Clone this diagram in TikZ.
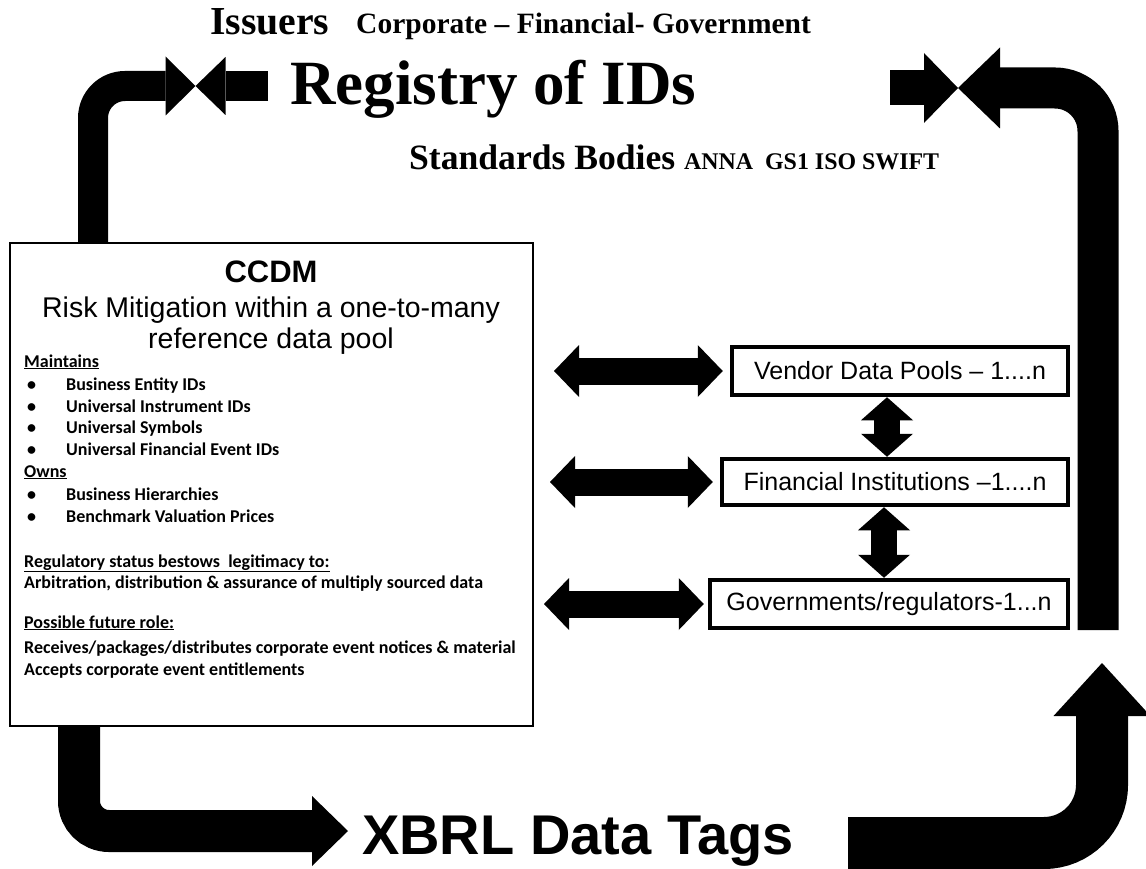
\documentclass[tikz,border=0pt]{standalone}
\usepackage{fontspec}
\setmainfont{Liberation Serif}
\setsansfont{Liberation Sans}
\newfontfamily\calfont{Carlito}
\usetikzlibrary{arrows.meta,positioning,calc}

\begin{document}
\begin{tikzpicture}[x=1pt, y=-1pt, line cap=butt,
  poolbox/.style={draw, line width=4.5pt, fill=white, inner sep=0pt, font=\sffamily\fontsize{25}{30}\selectfont},
  ccdmtxt/.style={anchor=base west, inner sep=0pt, font=\calfont\bfseries\fontsize{18}{22}\selectfont},
  hdbl/.style={line width=27pt, {Triangle[length=25pt,width=52pt,line width=0pt]}-{Triangle[length=25pt,width=52pt,line width=0pt]}},
  vdbl/.style={line width=26pt, {Triangle[length=23pt,width=52pt,line width=0pt]}-{Triangle[length=23pt,width=52pt,line width=0pt]}}]
\useasboundingbox (0,0) rectangle (1146,869);

% Headings
\node[font=\bfseries\fontsize{39.7}{44}\selectfont, anchor=base west, inner sep=0pt] (issuers) at (210,35) {Issuers};
\node[font=\bfseries\fontsize{29.5}{34}\selectfont, anchor=base west, inner sep=0pt] (sectors) at (356,34) {Corporate \textendash{} Financial- Government};
\node[font=\bfseries\fontsize{63}{70}\selectfont, anchor=base west, inner sep=0pt] (reg) at (290,105) {Registry of IDs};
\node[font=\bfseries\fontsize{35.6}{40}\selectfont, anchor=base west, inner sep=0pt] (std) at (409,170) {Standards Bodies {\fontsize{23.9}{28}\selectfont ANNA\ \ GS1 ISO SWIFT}};

% CCDM box
\node[draw, line width=2pt, fill=white, minimum width=523pt, minimum height=483pt, inner sep=0pt] (ccdm) at (271.5,484.5) {};
\node[font=\sffamily\bfseries\fontsize{31}{36}\selectfont, anchor=base, inner sep=0pt] (title) at (271,282) {CCDM};
\node[font=\sffamily\fontsize{28.5}{31}\selectfont, anchor=base, inner sep=0pt] (mitig) at (271,317) {Risk Mitigation within a one-to-many};
\node[font=\sffamily\fontsize{28.5}{31}\selectfont, anchor=base, inner sep=0pt] (pool) at (271,348) {reference data pool};

\node[ccdmtxt] (mnt) at (24,367) {\underline{Maintains}};
\node[ccdmtxt] (m1) at (27,390) {\makebox[39pt][l]{•}Business Entity IDs};
\node[ccdmtxt] (m2) at (27,412) {\makebox[39pt][l]{•}Universal Instrument IDs};
\node[ccdmtxt] (m3) at (27,433) {\makebox[39pt][l]{•}Universal Symbols};
\node[ccdmtxt] (m4) at (27,455) {\makebox[39pt][l]{•}Universal Financial Event IDs};
\node[ccdmtxt] (own) at (24,477) {\underline{Owns}};
\node[ccdmtxt] (o1) at (27,500) {\makebox[39pt][l]{•}Business Hierarchies};
\node[ccdmtxt] (o2) at (27,522) {\makebox[39pt][l]{•}Benchmark Valuation Prices};
\node[ccdmtxt] (regst) at (24,567) {\underline{Regulatory status bestows\ \ legitimacy to:}};
\node[ccdmtxt] (arb) at (24,588) {Arbitration, distribution \& assurance of multiply sourced data};
\node[ccdmtxt] (fut) at (24,628) {\underline{Possible future role:}};
\node[ccdmtxt] (rcv) at (24,653) {Receives/packages/distributes corporate event notices \& material};
\node[ccdmtxt] (acc) at (24,675) {Accepts corporate event entitlements};

% Pools
\node[poolbox, minimum width=336pt, minimum height=48pt] (vendor) at (900,371) {Vendor Data Pools \textendash{} 1....n};
\node[poolbox, minimum width=346pt, minimum height=46pt] (fin) at (895,482) {Financial Institutions \textendash1....n};
\node[poolbox, minimum width=358pt, minimum height=48pt] (gov) at (889,604) {Governments/regulators-1...n};

\node[font=\sffamily\bfseries\fontsize{56}{60}\selectfont, anchor=base west, inner sep=0pt] (xbrl) at (362,854) {XBRL Data Tags};

% Meeting points and free ends
\coordinate (lmeet) at (195.5,86);
\coordinate (rmeet) at (958,88);
\coordinate (rstub) at (890,88);
\coordinate (rtail) at (1098,630);
\coordinate (xtip) at (348,831);
\coordinate (jtail) at (848,843);
\coordinate (jtip) at (1102,663);

% Big bent arrows
\draw[line width=30pt, rounded corners=32pt, -{Triangle[length=30pt,width=59pt,line width=0pt]}] ([xshift=84pt]ccdm.north west) |- (lmeet);
\draw[line width=30pt, -{Triangle[length=30pt,width=58pt,line width=0pt]}] ([xshift=-22pt]reg.west |- lmeet) -- (lmeet);
\draw[line width=41pt, rounded corners=43pt, -{Triangle[length=42pt,width=81pt,line width=0pt]}] (rtail) |- (rmeet);
\draw[line width=35pt, -{Triangle[length=34pt,width=70pt,line width=0pt]}] (rstub) -- (rmeet);
\draw[line width=42pt, rounded corners=30pt, -{Triangle[length=36pt,width=70pt,line width=0pt]}] ([xshift=70pt]ccdm.south west) |- (xtip);
\draw[line width=52pt, rounded corners=58pt, -{Triangle[length=53pt,width=97pt,line width=0pt]}] (jtail) -| (jtip);

% Two-way links
\draw[hdbl] ([xshift=20pt]ccdm.east |- vendor) -- ([xshift=-7pt]vendor.west);
\draw[hdbl] ([xshift=16pt]ccdm.east |- fin) -- ([xshift=-7pt]fin.west);
\draw[hdbl] ([xshift=10pt]ccdm.east |- gov) -- ([xshift=-4pt]gov.west);
\draw[vdbl] ([xshift=-13pt]vendor.south) -- ([xshift=-13pt]vendor.south |- fin.north);
\draw[vdbl] ([xshift=-11pt]fin.south) -- ([xshift=-11pt]fin.south |- gov.north);

\end{tikzpicture}
\end{document}
